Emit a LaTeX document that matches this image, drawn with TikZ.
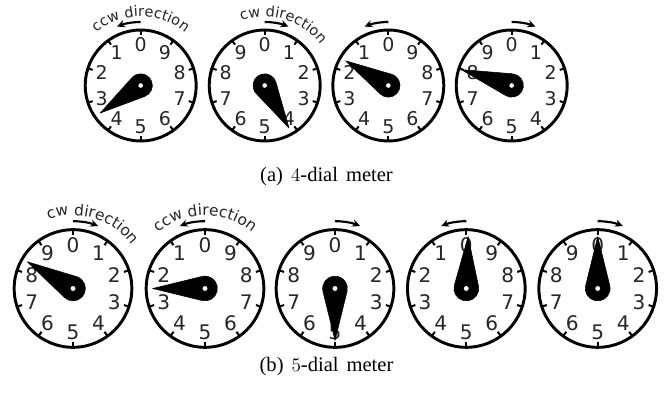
\documentclass[tikz,border=0pt]{standalone}
\usepackage{fontspec}
\setmainfont{Liberation Serif}
\newfontfamily\dialfont{DejaVu Sans}
\usetikzlibrary{decorations.text,arrows.meta}
\tikzset{
  ring/.style={draw=black,line width=2.2pt,fill=white},
  dialtick/.style={draw=black,line width=1.5pt},
  needle/.style={fill=black,draw=black,line width=0.4pt,line join=round},
  hubdot/.style={fill=white,draw=none},
  turnarrow/.style={draw=black,line width=1.6pt,-{Stealth[length=6pt,width=5.5pt]}},
  digit/.style={text=black!85,inner sep=0pt,font=\dialfont\fontsize{#1}{#1}\selectfont},
  captiontext/.style={inner sep=0pt,font=\fontsize{15.4}{17}\selectfont,anchor=base},
}
% #1 name #2 cx #3 cy #4 scale #5 sign (+1 ccw, -1 cw) #6 needle angle #7 needle length
\newcommand{\dialface}[7]{%
  \begin{scope}[shift={(#2,#3)},scale=#4]
    \path[ring] (0,0) circle (55.5);
    \foreach \k in {0,...,9}{
      \draw[dialtick] ({90+36*\k}:55) -- ({90+36*\k}:50.5);
      \pgfmathsetmacro{\da}{90+#5*36*\k}
      \node[digit={\fpeval{14.2*#4}}] (#1d\k) at (\da:41) {\k};
    }
    \pgfmathsetmacro{\hw}{acos(11.7/#7)}
    \path[needle] (#6:#7) -- ({#6+\hw}:11.7) arc[start angle={#6+\hw},end angle={#6+360-\hw},radius=11.7] -- cycle;
    \path[hubdot] (0,0) circle (2.3);
    \coordinate (#1c) at (0,0);
    \coordinate (#1s) at (90:63.5);
    \coordinate (#1e) at ({90+#5*22}:63.5);
    \draw[turnarrow] (#1s) arc[start angle=90,end angle={90+#5*22},radius=63.5];
  \end{scope}%
}
% curved label: #1 cx #2 cy #3 scale #4 text #5 start angle #6 end angle
\newcommand{\dirlabel}[6]{%
  \begin{scope}[shift={(#1,#2)},scale=#3]
    \path[decorate,decoration={text along path,text align={align=center},
      text={|\dialfont\fontsize{\fpeval{10.9*#3}}{12}\selectfont\color{black!85}|#4}}]
      (#5:69) arc[start angle=#5,end angle=#6,radius=69];
  \end{scope}%
}
\begin{document}
\begin{tikzpicture}[x=0.75pt,y=0.75pt]
\useasboundingbox (0,0) rectangle (666,395);
\dialface{a}{140.7}{309.5}{1}{1}{214.2}{49}
\dialface{b}{264.7}{309.5}{1}{-1}{-60.3}{49}
\dialface{c}{388.3}{309.5}{1}{1}{150}{49.3}
\dialface{d}{511.7}{309.5}{1}{-1}{162.5}{53}
\dialface{e}{73}{106.5}{1.06}{-1}{149.7}{50}
\dialface{f}{205}{106.5}{1.06}{1}{180}{49.3}
\dialface{g}{335}{106.5}{1.06}{-1}{-90}{49}
\dialface{h}{466.3}{106.5}{1.06}{1}{88}{49}
\dialface{i}{597.7}{106.5}{1.06}{-1}{90}{49}
\dirlabel{140.7}{309.5}{1}{ccw direction}{130}{50}
\dirlabel{264.7}{309.5}{1}{cw direction}{110}{36}
\dirlabel{73}{106.5}{1.06}{cw direction}{110}{36}
\dirlabel{205}{106.5}{1.06}{ccw direction}{130}{50}
\node[captiontext] (capa) at (326.5,213) {(a)\hspace{6pt}$4$-dial\hspace{6pt}meter};
\node[captiontext] (capb) at (326.5,23) {(b)\hspace{6pt}$5$-dial\hspace{6pt}meter};
\end{tikzpicture}
\end{document}
